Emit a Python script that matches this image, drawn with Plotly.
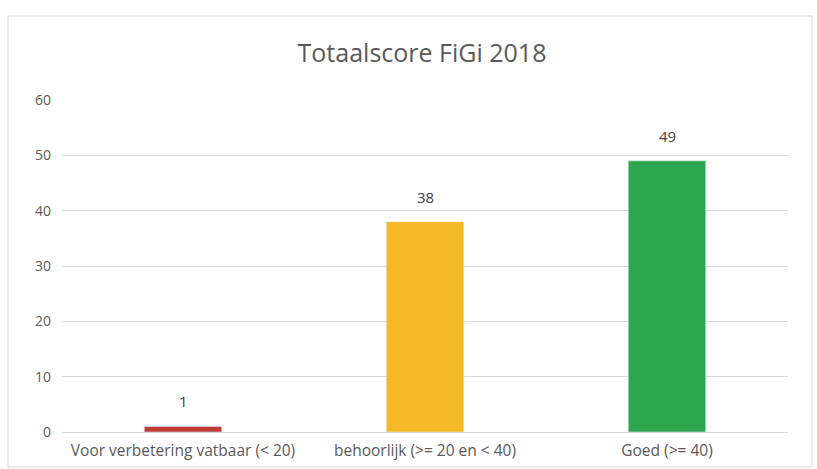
import plotly.graph_objects as go

categories = ["Voor verbetering vatbaar (< 20)", "behoorlijk (>= 20 en < 40)", "Goed (>= 40)"]
values = [1, 38, 49]
colors = ["#BF3B36", "#F5B926", "#2EA64F"]
y_ticks = [0, 10, 20, 30, 40, 50, 60]

W, H = 817, 469
L, R, T, B = 62, 29, 100, 37
pw, ph = W - L - R, H - T - B

def px_x(x):
    return (x - L) / pw

def px_y(y):
    return (H - B - y) / ph

fig = go.Figure(go.Bar(
    x=categories, y=values, marker_color=colors,
))

for c, v in zip(categories, values):
    fig.add_annotation(x=c, y=v, text=str(v), showarrow=False,
                       yanchor="bottom", yshift=13,
                       font=dict(size=15, color="#404040", family="Open Sans"))

fig.update_layout(
    width=W, height=H,
    margin=dict(l=L, r=R, t=T, b=B, autoexpand=False),
    paper_bgcolor="white", plot_bgcolor="white",
    bargap=0.68,
    showlegend=False,
    title=dict(text="Totaalscore FiGi 2018", x=422 / W, xanchor="center",
               xref="container",
               y=1 - 53 / H, yanchor="middle",
               font=dict(family="Open Sans", size=25, color="#595959")),
    font=dict(family="Open Sans", size=14, color="#595959"),
    xaxis=dict(showgrid=False, showline=True, linecolor="#D9D9D9",
               tickfont=dict(size=15.5, color="#595959"), ticks="",
               ticklabelstandoff=4, automargin=False),
    yaxis=dict(range=[0, 60], tickvals=y_ticks, showgrid=True,
               gridcolor="#D9D9D9", zeroline=False, showline=False,
               tickfont=dict(size=14, color="#595959"), ticks="",
               ticklabelstandoff=10, automargin=False),
    shapes=[dict(type="rect", xref="paper", yref="paper",
                 x0=px_x(8), x1=px_x(812), y0=px_y(467), y1=px_y(16),
                 line=dict(color="#D9D9D9", width=1), fillcolor="rgba(0,0,0,0)",
                 layer="below")],
)

fig.write_html("out.html")
